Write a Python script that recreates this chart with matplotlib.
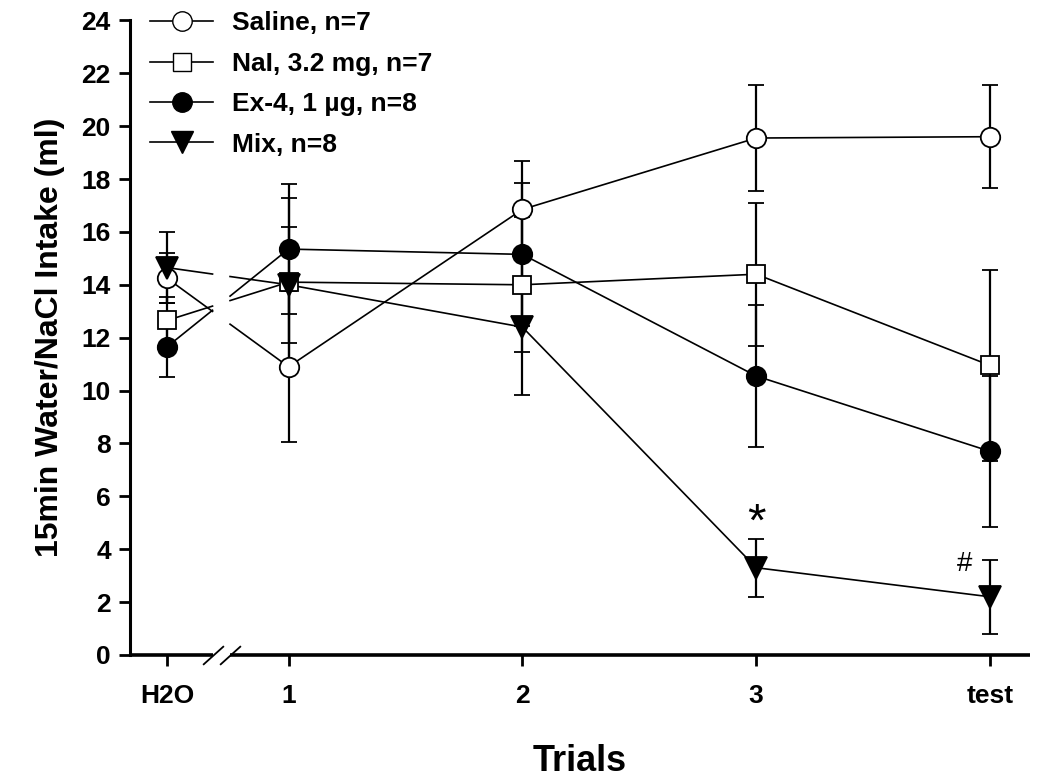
import numpy as np
import matplotlib
matplotlib.use("Agg")
import matplotlib.pyplot as plt
from matplotlib.lines import Line2D

plt.rcParams["font.family"] = ["Liberation Sans", "DejaVu Sans"]
plt.rcParams["font.weight"] = "bold"

# x categories; H2O sits closer to trial 1 (broken axis)
trials = ["H2O", "1", "2", "3", "test"]
x_pos = [0.48, 1, 2, 3, 4]

saline = [14.25, 10.9, 16.85, 19.55, 19.6]
saline_err = [0.95, 2.85, 1.85, 2.0, 1.95]
nal = [12.65, 14.1, 14.0, 14.4, 10.95]
nal_err = [0.9, 3.2, 2.55, 2.7, 3.6]
ex4 = [11.65, 15.35, 15.15, 10.55, 7.7]
ex4_err = [1.15, 2.45, 2.7, 2.7, 2.85]
mix = [14.65, 14.0, 12.4, 3.3, 2.2]
mix_err = [1.35, 2.2, 2.57, 1.1, 1.4]

labels = ["Saline, n=7", "NaI, 3.2 mg, n=7", "Ex-4, 1 \u00b5g, n=8", "Mix, n=8"]

BREAK_LO, BREAK_HI = 0.675, 0.75
XLIM = (0.323, 4.171)
LW = 1.2
MS = 14

fig = plt.figure(figsize=(10.5, 7.83), dpi=100)
ax = fig.add_axes([0.124, 0.1635, 0.857, 0.8105])


def draw_series(y, err, marker, face, ms):
    x = np.asarray(x_pos, dtype=float)
    y = np.asarray(y, dtype=float)
    y_lo = np.interp(BREAK_LO, x[:2], y[:2])
    y_hi = np.interp(BREAK_HI, x[:2], y[:2])
    ax.plot([x[0], BREAK_LO], [y[0], y_lo], color="k", lw=LW, zorder=2)
    ax.plot(np.r_[BREAK_HI, x[1:]], np.r_[y_hi, y[1:]], color="k", lw=LW, zorder=2)
    ax.errorbar(x, y, yerr=err, fmt=marker, mfc=face, mec="k", mew=1.3, ms=ms,
                ecolor="k", elinewidth=1.6, capsize=6, capthick=1.6, zorder=3)


series = [
    (saline, saline_err, "o", "white", MS),
    (nal, nal_err, "s", "white", MS - 1),
    (ex4, ex4_err, "o", "black", MS),
    (mix, mix_err, "v", "black", MS + 2),
]
for y, err, m, f, ms in series:
    draw_series(y, err, m, f, ms)

# significance marks
ax.text(x_pos[3], mix[3] + mix_err[3] - 0.25, "*", ha="center", va="bottom",
        fontsize=34, fontweight="normal")
ax.text(x_pos[4] - 0.11, mix[4] + mix_err[4] - 0.65, "#", ha="center", va="bottom",
        fontsize=20, fontweight="normal")

ax.set_xlim(*XLIM)
ax.set_ylim(0, 24)
ax.set_yticks(np.arange(0, 25, 2))
ax.set_xticks(x_pos)
ax.set_xticklabels(trials)

for s in ("top", "right", "bottom"):
    ax.spines[s].set_visible(False)
ax.spines["left"].set_linewidth(2.2)

# broken bottom axis
ax.plot([XLIM[0], BREAK_LO], [0, 0], color="k", lw=2.6, clip_on=False,
        solid_capstyle="butt", zorder=5)
ax.plot([BREAK_HI, XLIM[1]], [0, 0], color="k", lw=2.6, clip_on=False,
        solid_capstyle="butt", zorder=5)
ax.plot([BREAK_LO, BREAK_HI], [0, 0], ls="none", marker=[(-1, -0.9), (1, 0.9)],
        ms=15, mec="k", mfc="none", mew=1.3, clip_on=False, zorder=5)

ax.tick_params(axis="both", direction="out", length=8, width=2, labelsize=19)
ax.tick_params(axis="x", pad=13)
ax.tick_params(axis="y", pad=6)

ax.set_xlabel("Trials", fontsize=26, fontweight="bold", labelpad=26)
ax.set_ylabel("15min Water/NaCl Intake (ml)", fontsize=23, fontweight="bold", labelpad=12)

handles = [
    Line2D([], [], color="k", lw=LW, marker=m, mfc=f, mec="k", ms=ms)
    for _, _, m, f, ms in series
]
ax.legend(handles, labels, loc="upper left", bbox_to_anchor=(0.022, 1.014),
          frameon=False, fontsize=19, handlelength=2.4, handletextpad=0.7,
          labelspacing=0.62, borderpad=0, borderaxespad=0)

fig.savefig("out.png", dpi=100)
